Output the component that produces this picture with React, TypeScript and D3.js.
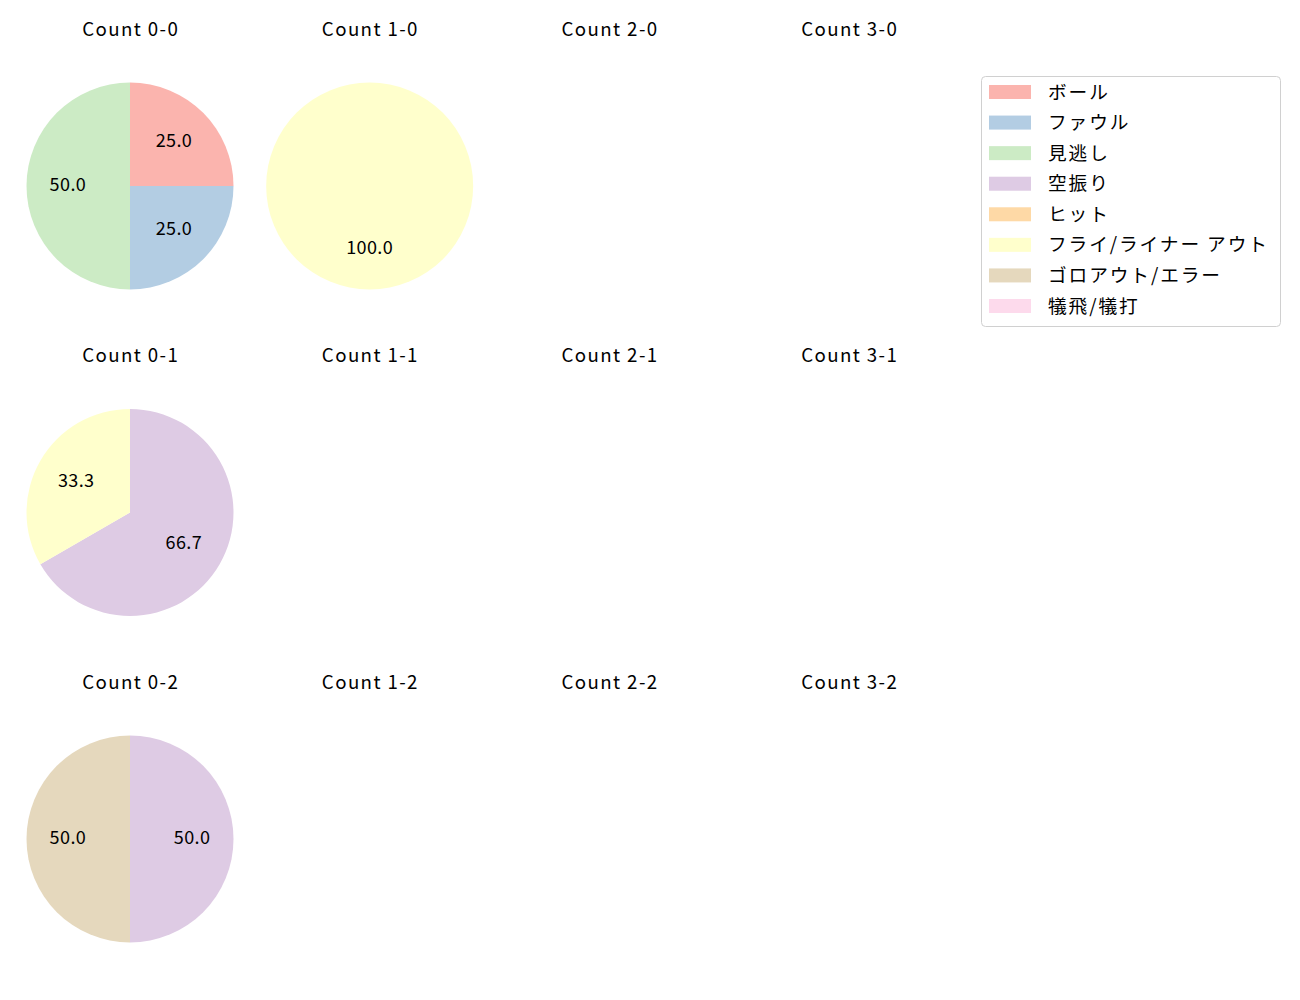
import React, { useEffect, useRef } from 'react';
import * as d3 from 'd3';

// categories shown in the legend
const categories = ['ボール', 'ファウル', '見逃し', '空振り', 'ヒット', 'フライ/ライナー アウト', 'ゴロアウト/エラー', '犠飛/犠打'];
const colors = ['#fbb4ae', '#b3cde3', '#ccebc5', '#decbe4', '#fed9a6', '#ffffcc', '#e5d8bd', '#fddaec'];

// pitch counts per ball-strike count (order = categories)
const balls = [0, 1, 2, 3];
const strikes = [0, 1, 2];
const count00 = [1, 1, 2, 0, 0, 0, 0, 0];
const count10 = [0, 0, 0, 0, 0, 1, 0, 0];
const count01 = [0, 0, 0, 2, 0, 1, 0, 0];
const count02 = [0, 0, 0, 1, 0, 0, 1, 0];

const pieData: Record<string, number[]> = {
  '0-0': count00,
  '1-0': count10,
  '0-1': count01,
  '0-2': count02,
};

const FONT = '"Noto Sans CJK JP", "Noto Sans", sans-serif';

const App = () => {
  const ref = useRef<SVGSVGElement>(null);

  useEffect(() => {
    const svg = d3.select(ref.current);
    svg.selectAll('*').remove();

    const colX = d3.scalePoint<number>().domain(balls).range([130, 849]);
    const rowY = d3.scalePoint<number>().domain(strikes).range([186, 839]);
    const r = 103.5;

    const pie = d3.pie<number>().sort(null).value(d => d);
    const arc = d3.arc<d3.PieArcDatum<number>>().innerRadius(0).outerRadius(r);
    const labelArc = d3.arc<d3.PieArcDatum<number>>().innerRadius(r * 0.6).outerRadius(r * 0.6);

    strikes.forEach(s => {
      balls.forEach(b => {
        const cx = colX(b)!;
        const cy = rowY(s)!;
        const key = `${b}-${s}`;
        svg.append('text')
          .attr('x', cx + 0.7)
          .attr('y', cy - 157)
          .attr('dy', '0.35em')
          .attr('text-anchor', 'middle')
          .style('font-family', FONT)
          .style('font-size', '18.7px')
          .style('letter-spacing', '1.4px')
          .text(`Count ${key}`);

        const vals = pieData[key];
        if (!vals) return;
        const total = d3.sum(vals);
        const g = svg.append('g').attr('transform', `translate(${cx},${cy})`);
        const arcs = pie(vals).filter(d => d.value > 0);
        g.selectAll('path')
          .data(arcs)
          .join('path')
          .attr('d', arc)
          .attr('fill', d => colors[d.index]);
        g.selectAll('text')
          .data(arcs)
          .join('text')
          .attr('transform', d => `translate(${labelArc.centroid(d)})`)
          .attr('dy', '0.3em')
          .attr('text-anchor', 'middle')
          .style('font-family', FONT)
          .style('font-size', '18px')
          .style('letter-spacing', '0.4px')
          .text(d => (d.value / total * 100).toFixed(1));
      });
    });

    // legend
    const lg = svg.append('g');
    lg.append('rect')
      .attr('x', 981.5).attr('y', 76.5)
      .attr('width', 299).attr('height', 250)
      .attr('rx', 4)
      .attr('fill', 'white')
      .attr('stroke', '#d0d0d0');
    const ly = d3.scaleLinear().domain([0, categories.length - 1]).range([92, 306]);
    categories.forEach((c, i) => {
      lg.append('rect')
        .attr('x', 989).attr('y', ly(i) - 7)
        .attr('width', 42).attr('height', 14)
        .attr('fill', colors[i]);
      lg.append('text')
        .attr('x', 1048).attr('y', ly(i))
        .attr('dy', '0.35em')
        .style('font-family', FONT)
        .style('font-size', '18.7px')
        .style('letter-spacing', '1.9px')
        .text(c);
    });
  }, []);

  return (
    <div style={{ marginTop: -8, marginLeft: -8 }}>
      <svg ref={ref} width={1300} height={1000}></svg>
    </div>
  );
};

export default App;
